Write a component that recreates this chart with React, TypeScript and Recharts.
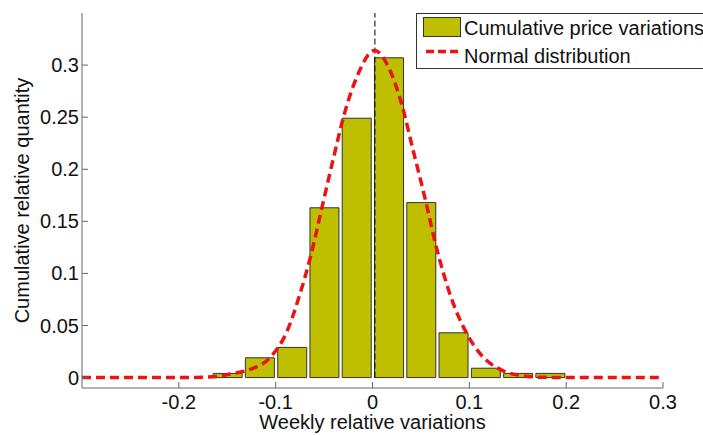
import { ComposedChart, Bar, Line, XAxis, YAxis, Label } from 'recharts';

// histogram bins (bin centres) and their relative share
const binCenters = [-0.15, -0.1167, -0.0833, -0.05, -0.0167, 0.0167, 0.05, 0.0833, 0.1167, 0.15, 0.1833];
const binShares = [0.004, 0.019, 0.029, 0.163, 0.249, 0.307, 0.168, 0.043, 0.009, 0.004, 0.004];

// fitted normal curve
const curveX = [-0.3, -0.2, -0.16, -0.147, -0.126, -0.106, -0.088, -0.075, -0.064, -0.052, -0.04, -0.03, -0.016, 0.002, 0.018, 0.03, 0.042, 0.054, 0.066, 0.08, 0.0975, 0.115, 0.135, 0.156, 0.18, 0.3];
const curveY = [0, 0, 0.001, 0.0034, 0.008, 0.019, 0.045, 0.08, 0.116, 0.164, 0.212, 0.25, 0.289, 0.314, 0.295, 0.263, 0.218, 0.173, 0.125, 0.08, 0.042, 0.019, 0.0065, 0.0016, 0.0002, 0];

// mean marker: vertical dashed line from 0 to the top of the plot
const meanX = 0.0025;
const meanSpan = [0, 0.35];

const xTicks = [-0.2, -0.1, 0, 0.1, 0.2, 0.3];
const yTicks = [0, 0.05, 0.1, 0.15, 0.2, 0.25, 0.3];

const FONT = '"Liberation Sans", Arial, sans-serif';
const AXIS = '#666';
const BAR_FILL = '#bfbf00';
const RED = '#ea1414';

const barData = binCenters.map((x, i) => ({ x, share: binShares[i] }));
const curveData = curveX.map((x, i) => ({ x, pdf: curveY[i] }));
const meanData = meanSpan.map((v) => ({ x: meanX, mean: v }));

const BottomTick = ({ x, y, payload }: any) => (
  <g>
    <line x1={x} y1={y} x2={x} y2={y - 6} stroke={AXIS} />
    <text x={x} y={y + 21} textAnchor="middle" fontSize={20} fontFamily={FONT} fill="#111">
      {payload.value}
    </text>
  </g>
);

const TopTick = ({ x, y }: any) => <line x1={x} y1={y} x2={x} y2={y + 6} stroke={AXIS} />;

const LeftTick = ({ x, y, payload }: any) => (
  <g>
    <line x1={x} y1={y} x2={x + 6} y2={y} stroke={AXIS} />
    <text x={x - 3} y={y + 7} textAnchor="end" fontSize={20} fontFamily={FONT} fill="#111">
      {payload.value}
    </text>
  </g>
);

const RightTick = ({ x, y }: any) => <line x1={x} y1={y} x2={x - 6} y2={y} stroke={AXIS} />;

export default function App() {
  return (
    <div style={{ position: 'absolute', left: 0, top: 0, width: 703, height: 435, background: '#fff' }}>
      <ComposedChart width={703} height={435} data={barData} margin={{ top: 13, right: 40, bottom: 0, left: 0 }}>
        <XAxis
          xAxisId="bottom"
          dataKey="x"
          type="number"
          domain={[-0.3, 0.3]}
          allowDataOverflow
          ticks={xTicks}
          interval={0}
          height={47}
          stroke={AXIS}
          tickLine={false}
          tickSize={0}
          tickMargin={0}
          tick={<BottomTick />}
        >
          <Label
            content={({ viewBox }: any) => (
              <text
                x={viewBox.x + viewBox.width / 2}
                y={viewBox.y + 41}
                textAnchor="middle"
                fontSize={20}
                fontFamily={FONT}
                fill="#111"
              >
                Weekly relative variations
              </text>
            )}
          />
        </XAxis>
        {/* top frame axis; the lines are bound to it so their points don't shrink the bar band */}
        <XAxis
          xAxisId="top"
          orientation="top"
          dataKey="x"
          type="number"
          domain={[-0.3, 0.3]}
          allowDataOverflow
          ticks={xTicks}
          interval={0}
          height={0}
          stroke={AXIS}
          tickLine={false}
          tickSize={0}
          tickMargin={0}
          tick={<TopTick />}
        />
        <YAxis
          yAxisId="left"
          type="number"
          domain={[-0.01, 0.35]}
          allowDataOverflow
          ticks={yTicks}
          interval={0}
          width={82}
          stroke={AXIS}
          tickLine={false}
          tickSize={0}
          tickMargin={0}
          tick={<LeftTick />}
        >
          <Label
            content={({ viewBox }: any) => {
              const cx = 29;
              const cy = viewBox.y + viewBox.height / 2;
              return (
                <text
                  x={cx}
                  y={cy}
                  transform={`rotate(-90, ${cx}, ${cy})`}
                  textAnchor="middle"
                  fontSize={20}
                  fontFamily={FONT}
                  fill="#111"
                >
                  Cumulative relative quantity
                </text>
              );
            }}
          />
        </YAxis>
        <YAxis
          yAxisId="right"
          orientation="right"
          type="number"
          domain={[-0.01, 0.35]}
          allowDataOverflow
          ticks={yTicks}
          interval={0}
          width={0}
          stroke={AXIS}
          tickLine={false}
          tickSize={0}
          tickMargin={0}
          tick={<RightTick />}
        />
        <Bar
          xAxisId="bottom"
          yAxisId="left"
          dataKey="share"
          barSize={29}
          fill={BAR_FILL}
          stroke="#333"
          strokeWidth={1}
          isAnimationActive={false}
        />
        <Line
          xAxisId="top"
          yAxisId="left"
          data={meanData}
          dataKey="mean"
          type="linear"
          stroke="#000"
          strokeWidth={1}
          strokeDasharray="6 3"
          dot={false}
          activeDot={false}
          isAnimationActive={false}
        />
        <Line
          xAxisId="top"
          yAxisId="left"
          data={curveData}
          dataKey="pdf"
          type="monotone"
          stroke={RED}
          strokeWidth={3.5}
          strokeDasharray="9 5"
          dot={false}
          activeDot={false}
          isAnimationActive={false}
        />
      </ComposedChart>
      <svg
        width={290}
        height={56}
        style={{ position: 'absolute', left: 416, top: 13, background: '#fff' }}
      >
        <rect x={0.5} y={0.5} width={300} height={55} fill="#fff" stroke="#333" />
        <rect x={7.5} y={4.5} width={37} height={19} fill={BAR_FILL} stroke="#333" />
        <line x1={10} y1={38.5} x2={45} y2={38.5} stroke={RED} strokeWidth={3.5} strokeDasharray="8 4" />
        <text x={48} y={22} fontSize={20} fontFamily={FONT} fill="#111">
          Cumulative price variations
        </text>
        <text x={48} y={49.5} fontSize={20} fontFamily={FONT} fill="#111">
          Normal distribution
        </text>
      </svg>
    </div>
  );
}
